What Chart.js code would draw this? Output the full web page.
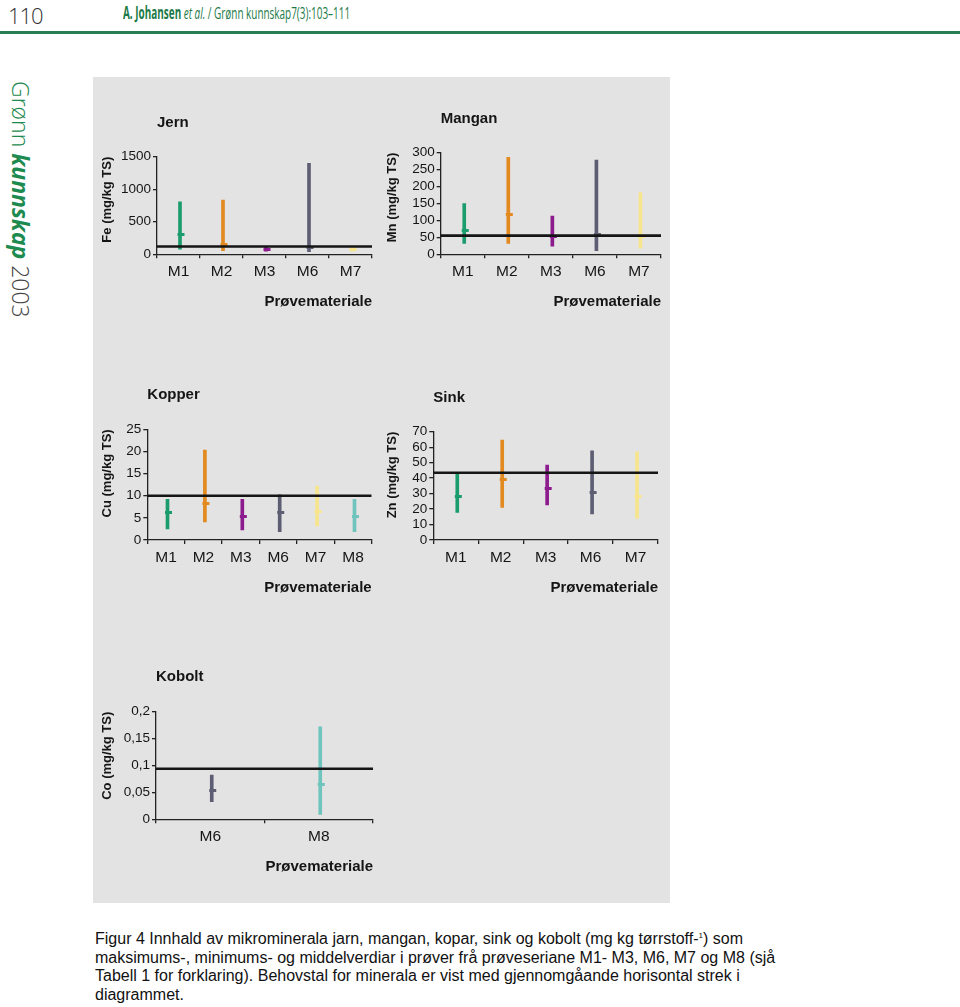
<!DOCTYPE html>
<html>
<head>
<meta charset="utf-8">
<script src="https://cdn.jsdelivr.net/npm/chart.js@4.4.1/dist/chart.umd.min.js"></script>
<style>
  html, body { margin: 0; padding: 0; background: #fff; }
  body { width: 960px; height: 1007px; position: relative; overflow: hidden; font-family: "Liberation Sans", Arial, sans-serif; }
  #folio { position: absolute; left: 8px; top: 0px; font: 300 22px "Open Sans", sans-serif; color: #333; letter-spacing: -1px; }
  #running { position: absolute; left: 123px; top: 1px; font: 17px "Open Sans", sans-serif; color: #1d7a48; white-space: nowrap; transform: scaleX(0.585); transform-origin: 0 0; }
  #running b { font-weight: 700; }
  #rule { position: absolute; left: 0; top: 31px; width: 960px; height: 3px; background: #2a7f52; }
  #spine { position: absolute; left: 5px; top: 81px; writing-mode: vertical-rl; font: 300 23px "Open Sans", sans-serif; color: #1d8a50; white-space: nowrap; }
  #spine b { font-weight: 700; font-style: italic; }
  #spine span { color: #444; }
  #panel { position: absolute; left: 93px; top: 77px; width: 577px; height: 826px; background: #e3e3e3; }
  canvas { position: absolute; }
  #caption { position: absolute; left: 95px; top: 930px; font-size: 16px; line-height: 18.7px; color: #111; white-space: nowrap; }
  #caption sup { font-size: 8px; vertical-align: 6px; line-height: 0; }
</style>
</head>
<body>
<div id="folio">110</div>
<div id="running"><b>A. Johansen</b> <i>et al.</i> / Grønn kunnskap7(3):103–111</div>
<div id="rule"></div>
<div id="spine">Grønn <b>kunnskap</b> <span>2003</span></div>
<div id="panel"></div>
<canvas id="jern"></canvas>
<canvas id="mangan"></canvas>
<canvas id="kopper"></canvas>
<canvas id="sink"></canvas>
<canvas id="kobolt"></canvas>
<div id="caption">Figur 4 Innhald av mikrominerala jarn, mangan, kopar, sink og kobolt (mg kg tørrstoff-<sup>1</sup>) som<br>maksimums-, minimums- og middelverdiar i prøver frå prøveseriane M1- M3, M6, M7 og M8 (sjå<br>Tabell 1 for forklaring). Behovstal for minerala er vist med gjennomgåande horisontal strek i<br>diagrammet.</div>
<script>
// Jern (Fe)
const jernLabels = ['M1', 'M2', 'M3', 'M6', 'M7'];
const jernMin = [77, 55, 50, 40, 50];
const jernMax = [808, 835, 110, 1400, 105];
const jernMean = [297, 158, 70, 108, 75];
const jernBehov = 120;

// Mangan (Mn)
const manganLabels = ['M1', 'M2', 'M3', 'M6', 'M7'];
const manganMin = [32, 32, 24, 11, 18];
const manganMax = [150, 286, 113, 278, 182];
const manganMean = [69, 118, 52, 57, 54];
const manganBehov = 55;

// Kopper (Cu)
const kopperLabels = ['M1', 'M2', 'M3', 'M6', 'M7', 'M8'];
const kopperMin = [2.5, 4.1, 2.3, 1.9, 3.2, 1.9];
const kopperMax = [9.2, 20.3, 9.2, 10.2, 12.2, 9.2];
const kopperMean = [6.2, 8.3, 5.4, 6.2, 6.4, 5.3];
const kopperBehov = 10;

// Sink (Zn)
const sinkLabels = ['M1', 'M2', 'M3', 'M6', 'M7'];
const sinkMin = [17.8, 21, 22.6, 16.8, 14];
const sinkMax = [43, 64.6, 48.5, 57.7, 57];
const sinkMean = [28.4, 38.8, 33.4, 30.6, 28];
const sinkBehov = 43.5;

// Kobolt (Co)
const koboltLabels = ['M6', 'M8'];
const koboltMin = [0.033, 0.009];
const koboltMax = [0.082, 0.172];
const koboltMean = [0.053, 0.064];
const koboltBehov = 0.094;

const colours = { M1: '#1b9c6d', M2: '#e28a1f', M3: '#8c1b8d', M6: '#5d5e73', M7: '#f6e58c', M8: '#6fc4be' };
const ink = '#151515';

Chart.defaults.font.family = '"Liberation Sans", Arial, sans-serif';
Chart.defaults.color = ink;

// short horizontal stroke to the right of the point = the mean marker
function meanTick(colour) {
  const c = document.createElement('canvas');
  c.width = 14;
  c.height = 3;
  const g = c.getContext('2d');
  g.fillStyle = colour;
  g.fillRect(6, 0, 7, 3);
  return c;
}

function makeChart(id, box, title, yTitle, yMax, yStep, labels, lows, highs, means, behov) {
  const cv = document.getElementById(id);
  const left = Math.round(box.yTitleX - 12.8);
  const top = Math.round(box.titleY - 13);
  const width = Math.round(box.xEnd - left + 12);
  const height = Math.round(box.zero + 56.7 - top);
  cv.width = width;
  cv.height = height;
  cv.style.left = left + 'px';
  cv.style.top = top + 'px';

  const yWidth = box.axisX - left;
  const xHeight = height - (box.zero - top);
  const titleTop = box.titleY - top - 9;
  const titleBottom = (box.top - top) - titleTop - 18;
  const cols = labels.map(l => colours[l]);

  return new Chart(cv, {
    type: 'bar',
    data: {
      labels: labels,
      datasets: [
        {
          type: 'line',
          xAxisID: 'x2',
          data: [{ x: 0, y: behov }, { x: 1, y: behov }],
          borderColor: ink,
          borderWidth: 2.6,
          pointRadius: 0,
          order: 0
        },
        {
          type: 'line',
          data: means,
          showLine: false,
          pointStyle: cols.map(meanTick),
          pointRadius: 3,
          order: 1
        },
        {
          data: labels.map((l, i) => [lows[i], highs[i]]),
          backgroundColor: cols,
          borderWidth: 0,
          barThickness: 3,
          order: 2
        }
      ]
    },
    options: {
      responsive: false,
      animation: false,
      events: [],
      layout: { padding: { left: 0, top: 0, bottom: 0, right: width - (box.xEnd - left) } },
      plugins: {
        legend: { display: false },
        tooltip: { enabled: false },
        title: {
          display: true,
          text: title,
          align: 'start',
          fullSize: false,
          color: ink,
          font: { size: 15, weight: 'bold' },
          padding: { top: titleTop, bottom: titleBottom }
        }
      },
      scales: {
        x: {
          type: 'category',
          offset: true,
          border: { color: '#222', width: 1.3 },
          grid: { offset: true, drawOnChartArea: false, tickLength: 4, color: '#222', lineWidth: 1.3 },
          ticks: { font: { size: 15.5 }, color: ink, padding: 4 },
          title: {
            display: true,
            text: 'Prøvemateriale',
            align: 'end',
            color: ink,
            font: { size: 15, weight: 'bold' },
            padding: { top: 0, bottom: 0 }
          },
          afterFit: s => { s.height = xHeight; }
        },
        x2: { type: 'linear', min: 0, max: 1, offset: false, display: false },
        y: {
          min: 0,
          max: yMax,
          border: { color: '#222', width: 1.3 },
          grid: { drawOnChartArea: false, tickLength: 4, color: '#222', lineWidth: 1.3 },
          ticks: {
            stepSize: yStep,
            autoSkip: false,
            font: { size: 13.5, lineHeight: 1 },
            color: ink,
            padding: 2,
            callback: v => String(Math.round(v * 1000) / 1000).replace('.', ',')
          },
          title: {
            display: true,
            text: yTitle,
            align: 'end',
            color: ink,
            font: { size: 13, weight: 'bold' },
            padding: { top: 5, bottom: 0 }
          },
          afterFit: s => { s.width = yWidth; }
        }
      }
    }
  });
}

makeChart('jern', { yTitleX: 108, axisX: 157, xEnd: 372, top: 156.7, zero: 254.3, titleY: 123 },
  'Jern', 'Fe (mg/kg TS)', 1500, 500, jernLabels, jernMin, jernMax, jernMean, jernBehov);
makeChart('mangan', { yTitleX: 393, axisX: 440.7, xEnd: 661, top: 152.7, zero: 254.3, titleY: 118.5 },
  'Mangan', 'Mn (mg/kg TS)', 300, 50, manganLabels, manganMin, manganMax, manganMean, manganBehov);
makeChart('kopper', { yTitleX: 108, axisX: 147.3, xEnd: 371.7, top: 429.3, zero: 540, titleY: 395 },
  'Kopper', 'Cu (mg/kg TS)', 25, 5, kopperLabels, kopperMin, kopperMax, kopperMean, kopperBehov);
makeChart('sink', { yTitleX: 393, axisX: 433.3, xEnd: 658, top: 431.7, zero: 540, titleY: 397.5 },
  'Sink', 'Zn (mg/kg TS)', 70, 10, sinkLabels, sinkMin, sinkMax, sinkMean, sinkBehov);
makeChart('kobolt', { yTitleX: 108, axisX: 156, xEnd: 373, top: 711.7, zero: 819.3, titleY: 677 },
  'Kobolt', 'Co (mg/kg TS)', 0.2, 0.05, koboltLabels, koboltMin, koboltMax, koboltMean, koboltBehov);
</script>
</body>
</html>
